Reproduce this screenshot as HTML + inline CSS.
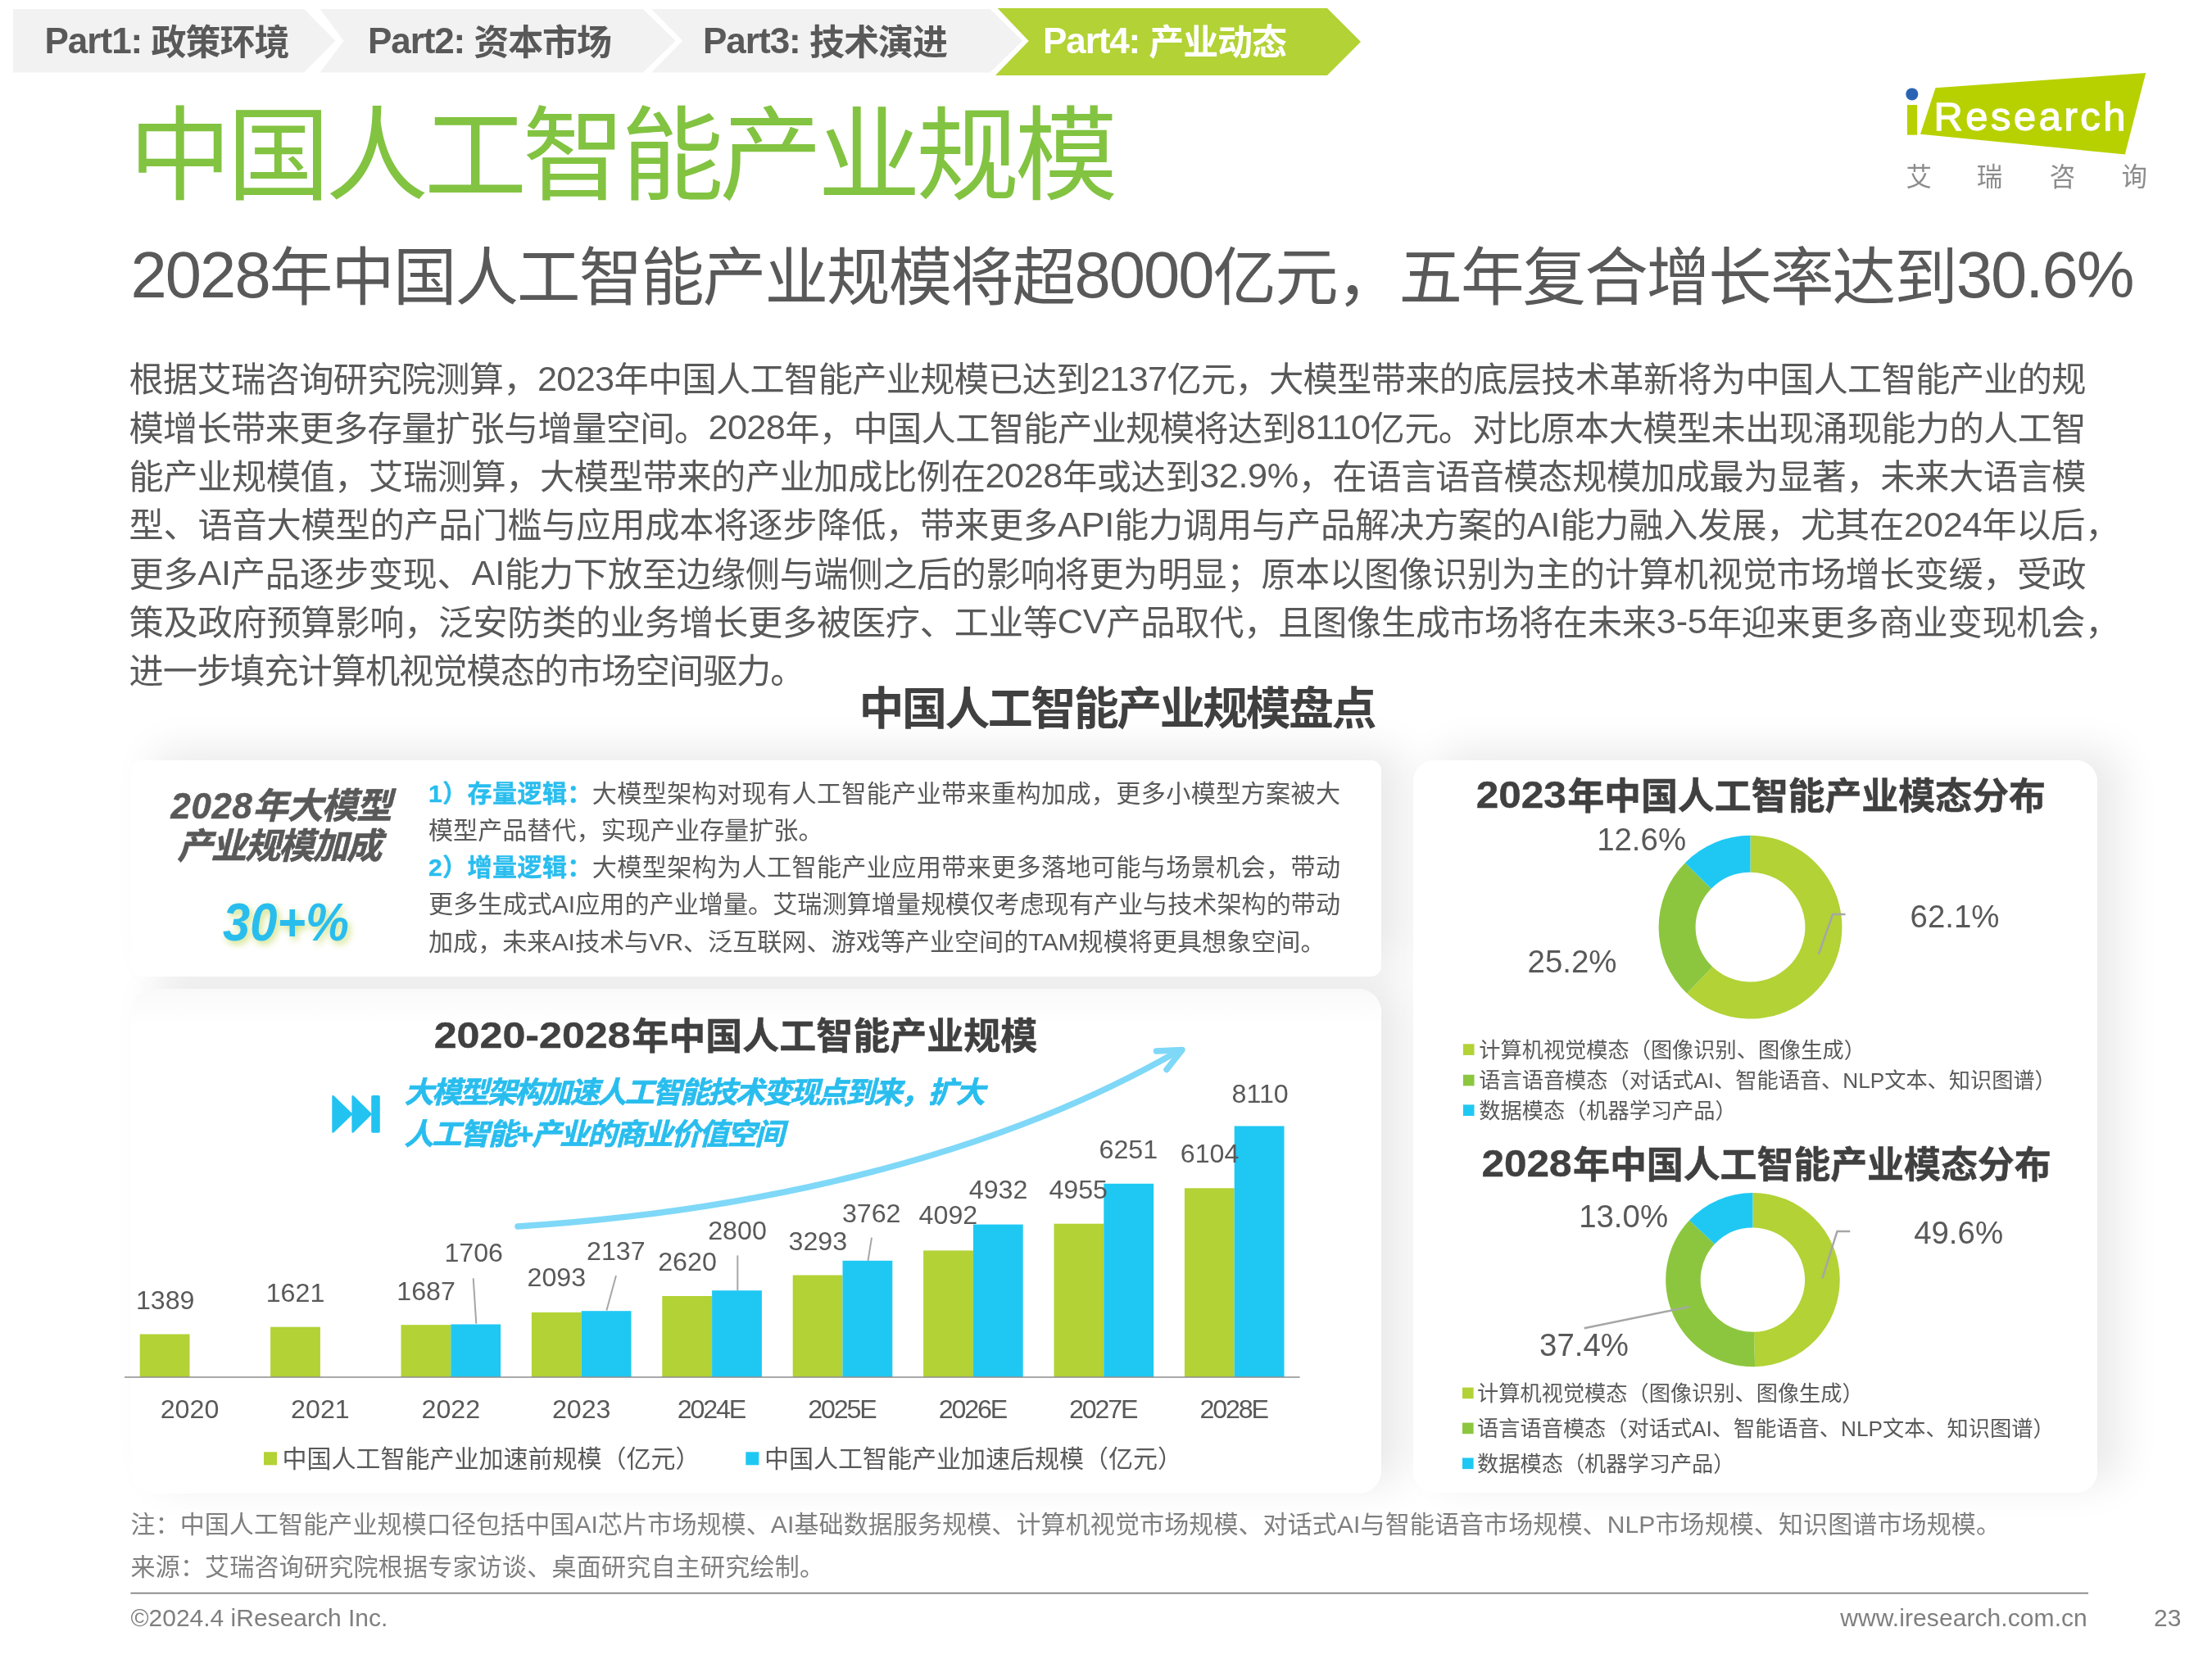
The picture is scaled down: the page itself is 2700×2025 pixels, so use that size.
<!DOCTYPE html>
<html lang="zh-CN">
<head>
<meta charset="utf-8">
<title>中国人工智能产业规模</title>
<style>
html,body{margin:0;padding:0;background:#fff;}
body{width:2700px;height:2025px;position:relative;overflow:hidden;font-family:"Liberation Sans","Noto Sans CJK SC",sans-serif;}
.sh,.card{position:absolute;background:#fff;}
.sh{box-shadow:28px -12px 50px rgba(0,0,0,0.085);}
.c1{left:160px;top:928px;width:1526px;height:264px;border-radius:13px;}
.c2{left:160px;top:1207px;width:1526px;height:616px;border-radius:28px;}
.card.c2{background:linear-gradient(to bottom,#f9f9f9 0,#fcfcfc 20px,#fff 45px);}
.c3{left:1725px;top:928px;width:835px;height:893.5px;border-radius:26px;}
svg{position:absolute;left:0;top:0;will-change:transform;}
svg text{font-family:"Liberation Sans","Noto Sans CJK SC",sans-serif;white-space:pre;}
</style>
</head>
<body>
<div class="sh c1"></div><div class="sh c2"></div><div class="sh c3"></div>
<div class="card c1"></div><div class="card c2"></div><div class="card c3"></div>
<svg width="2700" height="2025" viewBox="0 0 2700 2025">
<polygon points="16,11 371,11 409.5,49.8 371,88.5 16,88.5" fill="#f2f2f2"/>
<polygon points="390.6,11 784.8,11 824.6,49.8 784.8,88.5 390.6,88.5 419.6,49.8" fill="#f2f2f2"/>
<polygon points="795,11 1208.4,11 1248.2,49.8 1208.4,88.5 795,88.5 833.3,49.8" fill="#f2f2f2"/>
<polygon points="1217.6,10 1620,10 1661,51 1620,92 1215,92 1255.7,50" fill="#b2d235"/>
<text x="54.5" y="65" fill="#595959" font-weight="bold" textLength="299" lengthAdjust="spacing"><tspan font-size="44">Part1: </tspan><tspan font-size="43" dy="2">政策环境</tspan></text>
<text x="449" y="65" fill="#595959" font-weight="bold" textLength="298" lengthAdjust="spacing"><tspan font-size="44">Part2: </tspan><tspan font-size="43" dy="2">资本市场</tspan></text>
<text x="858" y="65" fill="#595959" font-weight="bold" textLength="299" lengthAdjust="spacing"><tspan font-size="44">Part3: </tspan><tspan font-size="43" dy="2">技术演进</tspan></text>
<text x="1273" y="65" fill="#ffffff" font-weight="bold" textLength="298" lengthAdjust="spacing"><tspan font-size="44">Part4: </tspan><tspan font-size="43" dy="2">产业动态</tspan></text>
<polygon points="2362.5,107.2 2619.2,89.1 2593.8,188.5 2344,163.7" fill="#b7d100"/>
<rect x="2327.9" y="128.1" width="12.2" height="36.6" fill="#b7d100"/>
<circle cx="2333.8" cy="114.9" r="7.5" fill="#2a63b3"/>
<text x="2360.5" y="159.3" font-size="48.8" fill="#ffffff" textLength="234" lengthAdjust="spacing" stroke="#ffffff" stroke-width="1.3">Research</text>
<text x="2326.4 2412.8 2501.8 2589.4" y="226.8" font-size="31.5" fill="#8c8c8c">艾瑞咨询</text>
<text x="157.2" y="234.4" font-size="125.5" fill="#82c341" textLength="1207" lengthAdjust="spacing">中国人工智能产业规模</text>
<text x="159.5" y="366.3" font-size="77.5" fill="#595959" textLength="2446" lengthAdjust="spacing"><tspan font-size="79.5" dy="-3">2028</tspan><tspan dy="3">年中国人工智能产业规模将超</tspan><tspan font-size="79.5" dy="-3">8000</tspan><tspan dy="3">亿元，五年复合增长率达到</tspan><tspan font-size="79.5" dy="-3">30.6%</tspan></text>
<text x="157.5" y="478.3" font-size="42.2" fill="#595959" textLength="2389" lengthAdjust="spacing">根据艾瑞咨询研究院测算，<tspan font-size="43.2" dy="-1.6">2023</tspan><tspan dy="1.6">年中国人工智能产业规模已达到</tspan><tspan font-size="43.2" dy="-1.6">2137</tspan><tspan dy="1.6">亿元，大模型带来的底层技术革新将为中国人工智能产业的规</tspan></text>
<text x="157.5" y="537.6" font-size="42.2" fill="#595959" textLength="2389" lengthAdjust="spacing">模增长带来更多存量扩张与增量空间。<tspan font-size="43.2" dy="-1.6">2028</tspan><tspan dy="1.6">年，中国人工智能产业规模将达到</tspan><tspan font-size="43.2" dy="-1.6">8110</tspan><tspan dy="1.6">亿元。对比原本大模型未出现涌现能力的人工智</tspan></text>
<text x="157.5" y="596.9" font-size="42.2" fill="#595959" textLength="2389" lengthAdjust="spacing">能产业规模值，艾瑞测算，大模型带来的产业加成比例在<tspan font-size="43.2" dy="-1.6">2028</tspan><tspan dy="1.6">年或达到</tspan><tspan font-size="43.2" dy="-1.6">32.9%</tspan><tspan dy="1.6">，在语言语音模态规模加成最为显著，未来大语言模</tspan></text>
<text x="157.5" y="656.2" font-size="42.2" fill="#595959" textLength="2430" lengthAdjust="spacing">型、语音大模型的产品门槛与应用成本将逐步降低，带来更多<tspan font-size="43.2" dy="-1.6">API</tspan><tspan dy="1.6">能力调用与产品解决方案的</tspan><tspan font-size="43.2" dy="-1.6">AI</tspan><tspan dy="1.6">能力融入发展，尤其在</tspan><tspan font-size="43.2" dy="-1.6">2024</tspan><tspan dy="1.6">年以后，</tspan></text>
<text x="157.5" y="715.5" font-size="42.2" fill="#595959" textLength="2389" lengthAdjust="spacing">更多<tspan font-size="43.2" dy="-1.6">AI</tspan><tspan dy="1.6">产品逐步变现、</tspan><tspan font-size="43.2" dy="-1.6">AI</tspan><tspan dy="1.6">能力下放至边缘侧与端侧之后的影响将更为明显；原本以图像识别为主的计算机视觉市场增长变缓，受政</tspan></text>
<text x="157.5" y="774.8" font-size="42.2" fill="#595959" textLength="2430" lengthAdjust="spacing">策及政府预算影响，泛安防类的业务增长更多被医疗、工业等<tspan font-size="43.2" dy="-1.6">CV</tspan><tspan dy="1.6">产品取代，且图像生成市场将在未来</tspan><tspan font-size="43.2" dy="-1.6">3-5</tspan><tspan dy="1.6">年迎来更多商业变现机会，</tspan></text>
<text x="157.5" y="834.1" font-size="42.2" fill="#595959" textLength="825" lengthAdjust="spacing">进一步填充计算机视觉模态的市场空间驱力。</text>
<text x="1364.5" y="884.2" font-size="55" fill="#404040" font-weight="bold" text-anchor="middle" textLength="632" lengthAdjust="spacing">中国人工智能产业规模盘点</text>
<text x="343.4" y="999" font-size="43.5" fill="#595959" font-weight="bold" font-style="italic" text-anchor="middle" textLength="270" lengthAdjust="spacing" stroke="#595959" stroke-width="0.6"><tspan letter-spacing="2.2">2028</tspan>年大模型</text>
<text x="341.2" y="1048" font-size="43.5" fill="#595959" font-weight="bold" font-style="italic" text-anchor="middle" textLength="250" lengthAdjust="spacing" stroke="#595959" stroke-width="0.6">产业规模加成</text>
<text x="349" y="1148.3" font-size="64" fill="#29bdee" font-weight="bold" font-style="italic" text-anchor="middle" textLength="154" lengthAdjust="spacingAndGlyphs" style="filter:drop-shadow(3px 4px 4px rgba(190,215,90,0.75))">30+%</text>
<text x="523" y="978.7" font-size="30.1" fill="#595959" textLength="1113" lengthAdjust="spacing"><tspan fill="#29bdee" font-weight="bold" stroke="#29bdee" stroke-width="0.4">1）存量逻辑：</tspan>大模型架构对现有人工智能产业带来重构加成，更多小模型方案被大</text>
<text x="523" y="1023.9" font-size="30.1" fill="#595959">模型产品替代，实现产业存量扩张。</text>
<text x="523" y="1069.1" font-size="30.1" fill="#595959" textLength="1113" lengthAdjust="spacing"><tspan fill="#29bdee" font-weight="bold" stroke="#29bdee" stroke-width="0.4">2）增量逻辑：</tspan>大模型架构为人工智能产业应用带来更多落地可能与场景机会，带动</text>
<text x="523" y="1114.3" font-size="30.1" fill="#595959" textLength="1113" lengthAdjust="spacing">更多生成式AI应用的产业增量。艾瑞测算增量规模仅考虑现有产业与技术架构的带动</text>
<text x="523" y="1159.5" font-size="30.1" fill="#595959">加成，未来AI技术与VR、泛互联网、游戏等产业空间的TAM规模将更具想象空间。</text>
<text x="529.7" y="1279" font-size="44.5" fill="#404040" font-weight="bold" textLength="240.0" lengthAdjust="spacingAndGlyphs" stroke="#404040" stroke-width="0.4">2020-2028</text>
<text x="771.2" y="1281" font-size="45" fill="#404040" font-weight="bold" textLength="495" lengthAdjust="spacing" stroke="#404040" stroke-width="0.5">年中国人工智能产业规模</text>
<path d="M406.5 1338.2 L429 1359.9 L406.5 1381.6 Z M430.6 1338.2 L452.5 1359.9 L430.6 1381.6 Z" fill="#22c3f1" stroke="#22c3f1" stroke-width="2.4" stroke-linejoin="round"/>
<rect x="453.2" y="1337" width="10.6" height="45.8" rx="1.8" fill="#22c3f1"/>
<text x="493.5" y="1346" font-size="36" fill="#29bdee" font-weight="bold" font-style="italic" textLength="709" lengthAdjust="spacing" stroke="#29bdee" stroke-width="0.7">大模型架构加速人工智能技术变现点到来，扩大</text>
<text x="493.5" y="1396.6" font-size="36" fill="#29bdee" font-weight="bold" font-style="italic" textLength="464" lengthAdjust="spacing" stroke="#29bdee" stroke-width="0.7">人工智能+产业的商业价值空间</text>
<path d="M632 1497 C 900 1480, 1200 1420, 1438 1283" fill="none" stroke="#7fd8f7" stroke-width="7.5" stroke-linecap="round"/>
<path d="M1411.5 1283 L1443 1281.5 L1424 1305.5" fill="none" stroke="#7fd8f7" stroke-width="7.5" stroke-linecap="round" stroke-linejoin="round"/>
<rect x="170.7" y="1628.5" width="60.8" height="52.5" fill="#b2d235"/>
<rect x="330.1" y="1619.7" width="60.8" height="61.3" fill="#b2d235"/>
<rect x="489.5" y="1617.2" width="60.8" height="63.8" fill="#b2d235"/>
<rect x="550.3" y="1616.5" width="60.8" height="64.5" fill="#1fc8f3"/>
<rect x="648.9" y="1601.9" width="60.8" height="79.1" fill="#b2d235"/>
<rect x="709.7" y="1600.2" width="60.8" height="80.8" fill="#1fc8f3"/>
<rect x="808.3" y="1582.0" width="60.8" height="99.0" fill="#b2d235"/>
<rect x="869.1" y="1575.2" width="60.8" height="105.8" fill="#1fc8f3"/>
<rect x="967.7" y="1556.5" width="60.8" height="124.5" fill="#b2d235"/>
<rect x="1028.5" y="1538.8" width="60.8" height="142.2" fill="#1fc8f3"/>
<rect x="1127.1" y="1526.4" width="60.8" height="154.6" fill="#b2d235"/>
<rect x="1187.9" y="1494.6" width="60.8" height="186.4" fill="#1fc8f3"/>
<rect x="1286.5" y="1493.7" width="60.8" height="187.3" fill="#b2d235"/>
<rect x="1347.3" y="1444.8" width="60.8" height="236.2" fill="#1fc8f3"/>
<rect x="1445.9" y="1450.3" width="60.8" height="230.7" fill="#b2d235"/>
<rect x="1506.7" y="1374.5" width="60.8" height="306.5" fill="#1fc8f3"/>
<line x1="152" y1="1681" x2="1586.6" y2="1681" stroke="#8c8c8c" stroke-width="1.7"/>
<text x="201.7" y="1597.5" font-size="32.2" fill="#595959" text-anchor="middle">1389</text>
<text x="360.5" y="1588.5" font-size="32.2" fill="#595959" text-anchor="middle">1621</text>
<text x="520.1" y="1586.7" font-size="32.2" fill="#595959" text-anchor="middle">1687</text>
<text x="679.3" y="1570.4" font-size="32.2" fill="#595959" text-anchor="middle">2093</text>
<text x="839" y="1551.3" font-size="32.2" fill="#595959" text-anchor="middle">2620</text>
<text x="998.3" y="1525.5" font-size="32.2" fill="#595959" text-anchor="middle">3293</text>
<text x="1157.4" y="1494.4" font-size="32.2" fill="#595959" text-anchor="middle">4092</text>
<text x="1316.2" y="1462.5" font-size="32.2" fill="#595959" text-anchor="middle">4955</text>
<text x="1476.6" y="1419" font-size="32.2" fill="#595959" text-anchor="middle">6104</text>
<text x="578.2" y="1540.4" font-size="32.2" fill="#595959" text-anchor="middle">1706</text>
<text x="751.8" y="1537.9" font-size="32.2" fill="#595959" text-anchor="middle">2137</text>
<text x="900" y="1512.6" font-size="32.2" fill="#595959" text-anchor="middle">2800</text>
<text x="1063.7" y="1491.7" font-size="32.2" fill="#595959" text-anchor="middle">3762</text>
<text x="1218.6" y="1462.9" font-size="32.2" fill="#595959" text-anchor="middle">4932</text>
<text x="1377.3" y="1413.8" font-size="32.2" fill="#595959" text-anchor="middle">6251</text>
<text x="1538.1" y="1346" font-size="32.2" fill="#595959" text-anchor="middle">8110</text>
<line x1="577.7" y1="1560.3" x2="581.3" y2="1615.6" stroke="#a6a6a6" stroke-width="2"/>
<line x1="752" y1="1557" x2="740.4" y2="1599.4" stroke="#a6a6a6" stroke-width="2"/>
<line x1="900.3" y1="1532.4" x2="900.3" y2="1575" stroke="#a6a6a6" stroke-width="2"/>
<line x1="1064" y1="1510.7" x2="1059.5" y2="1538.8" stroke="#a6a6a6" stroke-width="2"/>
<text x="231.5" y="1731" font-size="32.2" fill="#595959" text-anchor="middle">2020</text>
<text x="390.9" y="1731" font-size="32.2" fill="#595959" text-anchor="middle">2021</text>
<text x="550.3" y="1731" font-size="32.2" fill="#595959" text-anchor="middle">2022</text>
<text x="709.7" y="1731" font-size="32.2" fill="#595959" text-anchor="middle">2023</text>
<text x="869.1" y="1731" font-size="32.2" fill="#595959" text-anchor="middle" textLength="84.5" lengthAdjust="spacing">2024E</text>
<text x="1028.5" y="1731" font-size="32.2" fill="#595959" text-anchor="middle" textLength="84.5" lengthAdjust="spacing">2025E</text>
<text x="1187.9" y="1731" font-size="32.2" fill="#595959" text-anchor="middle" textLength="84.5" lengthAdjust="spacing">2026E</text>
<text x="1347.3" y="1731" font-size="32.2" fill="#595959" text-anchor="middle" textLength="84.5" lengthAdjust="spacing">2027E</text>
<text x="1506.7" y="1731" font-size="32.2" fill="#595959" text-anchor="middle" textLength="84.5" lengthAdjust="spacing">2028E</text>
<rect x="322" y="1772.3" width="16" height="16" fill="#b2d235"/>
<text x="344.5" y="1791.3" font-size="30" fill="#595959">中国人工智能产业加速前规模（亿元）</text>
<rect x="910.3" y="1772.3" width="16" height="16" fill="#1fc8f3"/>
<text x="933" y="1791.3" font-size="30" fill="#595959">中国人工智能产业加速后规模（亿元）</text>
<text x="1801.7" y="986.2" font-size="45.5" fill="#404040" font-weight="bold" textLength="110.0" lengthAdjust="spacingAndGlyphs" stroke="#404040" stroke-width="0.4">2023</text>
<text x="1913.2" y="988.2" font-size="45" fill="#404040" font-weight="bold" textLength="583.7" lengthAdjust="spacing" stroke="#404040" stroke-width="0.5">年中国人工智能产业模态分布</text>
<path d="M2136.50 1019.80 A111.9 111.9 0 1 1 2059.07 1212.49 L2090.21 1180.00 A66.9 66.9 0 1 0 2136.50 1064.80 Z" fill="#b2d235"/>
<path d="M2059.07 1212.49 A111.9 111.9 0 0 1 2056.82 1053.14 L2088.86 1084.73 A66.9 66.9 0 0 0 2090.21 1180.00 Z" fill="#8cc63f"/>
<path d="M2056.82 1053.14 A111.9 111.9 0 0 1 2136.50 1019.80 L2136.50 1064.80 A66.9 66.9 0 0 0 2088.86 1084.73 Z" fill="#1fc8f3"/>
<text x="2386" y="1131.5" font-size="38.4" fill="#595959" text-anchor="middle">62.1%</text>
<text x="2003.6" y="1037.9" font-size="38.4" fill="#595959" text-anchor="middle">12.6%</text>
<text x="1919" y="1187.1" font-size="38.4" fill="#595959" text-anchor="middle">25.2%</text>
<polyline points="2252.5,1116.1 2237.1,1116.1 2219.9,1164.5" fill="none" stroke="#a6a6a6" stroke-width="2.5"/>
<rect x="1785.9" y="1274.3" width="13.6" height="13.6" fill="#b2d235"/>
<text x="1805.3" y="1290.9" font-size="26.2" fill="#595959" textLength="471.6" lengthAdjust="spacing">计算机视觉模态（图像识别、图像生成）</text>
<rect x="1785.9" y="1311.8" width="13.6" height="13.6" fill="#8cc63f"/>
<text x="1805.3" y="1328.4" font-size="26.2" fill="#595959" textLength="704.5" lengthAdjust="spacing">语言语音模态（对话式AI、智能语音、NLP文本、知识图谱）</text>
<rect x="1785.9" y="1348.4" width="13.6" height="13.6" fill="#1fc8f3"/>
<text x="1805.3" y="1365.0" font-size="26.2" fill="#595959" textLength="314.4" lengthAdjust="spacing">数据模态（机器学习产品）</text>
<text x="1808.5" y="1436" font-size="45.5" fill="#404040" font-weight="bold" textLength="110.0" lengthAdjust="spacingAndGlyphs" stroke="#404040" stroke-width="0.4">2028</text>
<text x="1920.0" y="1438" font-size="45" fill="#404040" font-weight="bold" textLength="583.7" lengthAdjust="spacing" stroke="#404040" stroke-width="0.5">年中国人工智能产业模态分布</text>
<path d="M2139.40 1455.90 A106.2 106.2 0 0 1 2142.07 1668.27 L2141.00 1625.78 A63.7 63.7 0 0 0 2139.40 1498.40 Z" fill="#b2d235"/>
<path d="M2142.07 1668.27 A106.2 106.2 0 0 1 2061.98 1489.40 L2092.96 1518.49 A63.7 63.7 0 0 0 2141.00 1625.78 Z" fill="#8cc63f"/>
<path d="M2061.98 1489.40 A106.2 106.2 0 0 1 2139.40 1455.90 L2139.40 1498.40 A63.7 63.7 0 0 0 2092.96 1518.49 Z" fill="#1fc8f3"/>
<text x="2390.6" y="1518.2" font-size="38.4" fill="#595959" text-anchor="middle">49.6%</text>
<text x="1981.6" y="1497.9" font-size="38.4" fill="#595959" text-anchor="middle">13.0%</text>
<text x="1933.5" y="1654.8" font-size="38.4" fill="#595959" text-anchor="middle">37.4%</text>
<polyline points="2258.3,1502.9 2242.5,1502.9 2224.4,1560.3" fill="none" stroke="#a6a6a6" stroke-width="2.5"/>
<line x1="1933.7" y1="1621.3" x2="2061.7" y2="1595.1" stroke="#a6a6a6" stroke-width="2.5"/>
<rect x="1785" y="1693.6" width="13.6" height="13.6" fill="#b2d235"/>
<text x="1803.1" y="1710.2" font-size="26.2" fill="#595959" textLength="471.6" lengthAdjust="spacing">计算机视觉模态（图像识别、图像生成）</text>
<rect x="1785" y="1736.6" width="13.6" height="13.6" fill="#8cc63f"/>
<text x="1803.1" y="1753.2" font-size="26.2" fill="#595959" textLength="704.5" lengthAdjust="spacing">语言语音模态（对话式AI、智能语音、NLP文本、知识图谱）</text>
<rect x="1785" y="1779.5" width="13.6" height="13.6" fill="#1fc8f3"/>
<text x="1803.1" y="1796.1" font-size="26.2" fill="#595959" textLength="314.4" lengthAdjust="spacing">数据模态（机器学习产品）</text>
<text x="159.4" y="1870.5" font-size="30" fill="#7f7f7f" textLength="2282.5" lengthAdjust="spacing">注：中国人工智能产业规模口径包括中国AI芯片市场规模、AI基础数据服务规模、计算机视觉市场规模、对话式AI与智能语音市场规模、NLP市场规模、知识图谱市场规模。</text>
<text x="159.4" y="1923" font-size="30" fill="#7f7f7f" textLength="846.5" lengthAdjust="spacing">来源：艾瑞咨询研究院根据专家访谈、桌面研究自主研究绘制。</text>
<line x1="159.4" y1="1944.6" x2="2549" y2="1944.6" stroke="#7f7f7f" stroke-width="1.6"/>
<text x="159.4" y="1985.3" font-size="30" fill="#7f7f7f" textLength="314" lengthAdjust="spacing">©2024.4 iResearch Inc.</text>
<text x="2547.8" y="1985.3" font-size="30" fill="#7f7f7f" text-anchor="end" textLength="301.5" lengthAdjust="spacing">www.iresearch.com.cn</text>
<text x="2662.4" y="1985.3" font-size="30" fill="#7f7f7f" text-anchor="end">23</text>
</svg>
</body>
</html>
